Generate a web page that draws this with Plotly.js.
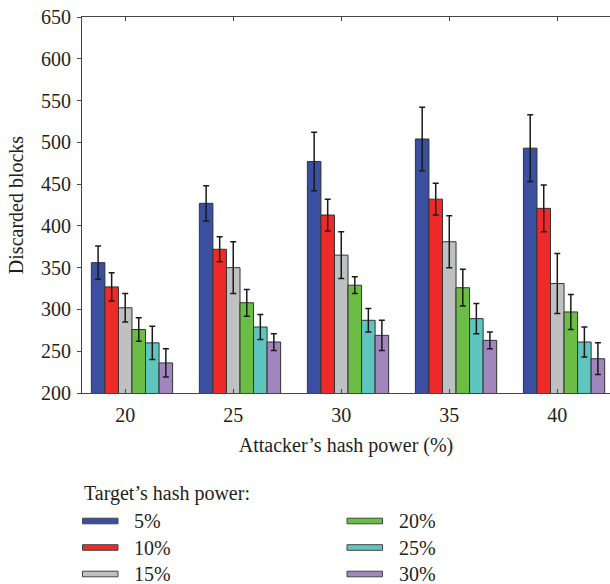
<!DOCTYPE html>
<html>
<head>
<meta charset="utf-8">
<script src="https://cdn.plot.ly/plotly-3.0.1.min.js"></script>
<style>html,body{margin:0;padding:0;background:#fff;}#chart{width:610px;height:584px;}</style>
</head>
<body>
<div id="chart"></div>
<script>
const attackerPower = [20, 25, 30, 35, 40];
const seriesNames = ['5%', '10%', '15%', '20%', '25%', '30%'];
const values5  = [356, 427, 477, 504, 493];
const values10 = [327, 372, 413, 432, 421];
const values15 = [302, 350, 365, 381, 331];
const values20 = [276, 308, 329, 326, 297];
const values25 = [260, 279, 287, 289, 261];
const values30 = [236, 261, 269, 263, 241];
const err5  = [20, 21, 35, 38, 40];
const err10 = [17, 15, 19, 19, 28];
const err15 = [17, 31, 28, 31, 36];
const err20 = [14, 16, 10, 22, 21];
const err25 = [20, 15, 14, 18, 18];
const err30 = [17, 10, 18, 10, 19];
const yTicks = [200, 250, 300, 350, 400, 450, 500, 550, 600, 650];
const allValues = [values5, values10, values15, values20, values25, values30];
const allErrors = [err5, err10, err15, err20, err25, err30];
const colors = ['#3a4f9f', '#ee2a2a', '#bfc0c2', '#6cbd45', '#5fc6bf', '#a086bd'];

const W = 610, H = 584;
const M = {l: 82, r: 0, t: 17, b: 191};
const plotW = W - M.l - M.r, plotH = H - M.t - M.b;
const px2x = px => (px - M.l) / plotW;
const px2y = py => (H - M.b - py) / plotH;

const barW = 0.627;
const font = {family: '"Liberation Serif", "DejaVu Serif", serif', size: 20, color: '#231f20'};

const traces = seriesNames.map((name, i) => ({
  type: 'bar',
  name: name,
  x: attackerPower,
  y: allValues[i],
  width: barW,
  offset: (i - 2.5) * barW,
  marker: {color: colors[i], line: {color: '#333333', width: 1}},
  error_y: {type: 'data', array: allErrors[i], visible: true, color: '#1a1a1a', thickness: 1.5, width: 3},
  showlegend: false
}));

// custom legend (two columns, wide swatches like the reference)
const shapes = [];
const annotations = [];
annotations.push({
  xref: 'paper', yref: 'paper', x: px2x(82), y: px2y(493),
  xanchor: 'left', yanchor: 'middle', showarrow: false,
  text: 'Target’s hash power:', font: font
});
seriesNames.forEach((name, i) => {
  const col = Math.floor(i / 3), row = i % 3;
  const sx = 82.5 + col * 264.5;
  const sy = 521 + row * 26.5;
  shapes.push({
    type: 'rect', xref: 'paper', yref: 'paper',
    x0: px2x(sx), x1: px2x(sx + 35.5), y0: px2y(sy - 2.8), y1: px2y(sy + 2.8),
    fillcolor: colors[i], line: {color: '#444444', width: 1}
  });
  annotations.push({
    xref: 'paper', yref: 'paper', x: px2x(sx + 49.5), y: px2y(sy),
    xanchor: 'left', yanchor: 'middle', showarrow: false,
    text: name, font: font
  });
});

const layout = {
  width: W, height: H,
  margin: M,
  paper_bgcolor: '#fff', plot_bgcolor: '#fff',
  font: font,
  barmode: 'overlay',
  showlegend: false,
  xaxis: {
    range: [18, 42.44],
    tickvals: attackerPower,
    ticktext: attackerPower.map(String),
    tickfont: font,
    ticks: 'inside', ticklen: 4, tickcolor: '#444',
    ticklabelstandoff: 4,
    showline: true, linecolor: '#444', linewidth: 1, mirror: 'ticks',
    showgrid: false, zeroline: false,
    title: {text: 'Attacker’s hash power (%)', font: font, standoff: 12}
  },
  yaxis: {
    range: [200, 650],
    tickvals: yTicks,
    tickfont: font,
    ticks: 'outside', ticklen: 4, tickcolor: '#444',
    ticklabelstandoff: 2,
    showline: true, linecolor: '#444', linewidth: 1, mirror: 'ticks',
    showgrid: false, zeroline: false,
    title: {text: 'Discarded blocks', font: font, standoff: 12}
  },
  shapes: shapes,
  annotations: annotations
};

Plotly.newPlot('chart', traces, layout, {displayModeBar: false, staticPlot: true});
</script>
</body>
</html>
